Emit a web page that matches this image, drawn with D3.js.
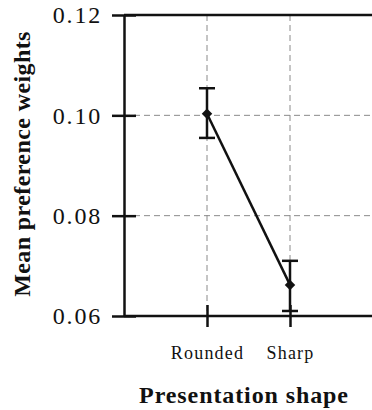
<!DOCTYPE html>
<html>
<head>
<meta charset="utf-8">
<script src="https://cdn.jsdelivr.net/npm/d3@7"></script>
<style>
  body { margin: 0; background: #fff; }
  text { font-family: "Liberation Serif", "DejaVu Serif", serif; fill: #111; }
</style>
</head>
<body>
<div id="chart"></div>
<script>
// data
const categories = ["Rounded", "Sharp"];
const means = [0.1003, 0.0662];
const errLow = [0.0955, 0.0610];
const errHigh = [0.1054, 0.0710];
const yTicks = [0.06, 0.08, 0.10, 0.12];

const W = 372, H = 410;
const mLeft = 124, mRight = 373, mTop = 15, mBottom = 316;
const serif = "Liberation Serif, DejaVu Serif, serif";

const svg = d3.select("#chart").append("svg")
    .attr("width", W).attr("height", H);

const x = d3.scaleLinear().domain([0, categories.length + 1]).range([mLeft, mRight]);
const y = d3.scaleLinear().domain([0.06, 0.12]).range([mBottom, mTop]);

/**
 * grid
 */
const grid = svg.append("g")
    .attr("stroke", "#8a8a8a")
    .attr("stroke-width", 1)
    .attr("stroke-dasharray", "6,4");
grid.selectAll("line.h").data([0.08, 0.10]).join("line")
    .attr("class", "h")
    .attr("x1", mLeft).attr("x2", W)
    .attr("y1", d => y(d)).attr("y2", d => y(d));
grid.selectAll("line.v").data(categories).join("line")
    .attr("class", "v")
    .attr("x1", (d, i) => x(i + 1)).attr("x2", (d, i) => x(i + 1))
    .attr("y1", mTop).attr("y2", mBottom);

/**
 * axes
 */
const yAxis = svg.append("g")
    .attr("transform", `translate(${mLeft},0)`)
    .call(d3.axisLeft(y).tickValues(yTicks).tickFormat(d3.format(".2f"))
        .tickSizeInner(12).tickSizeOuter(0).tickPadding(10))
    .attr("font-family", serif);
yAxis.select(".domain").attr("stroke", "#111").attr("stroke-width", 2.5);
yAxis.selectAll(".tick line").attr("stroke", "#111").attr("stroke-width", 2.5)
    .attr("x1", 12);
yAxis.selectAll(".tick text")
    .style("font-size", "24px").style("letter-spacing", "1.8px").attr("fill", "#111");

const xAxis = svg.append("g")
    .attr("transform", `translate(0,${mBottom})`)
    .call(d3.axisBottom(x).tickValues(categories.map((d, i) => i + 1))
        .tickFormat((d, i) => categories[i])
        .tickSizeInner(11).tickSizeOuter(0).tickPadding(14))
    .attr("font-family", serif);
xAxis.select(".domain").remove();
xAxis.selectAll(".tick line").attr("stroke", "#111").attr("stroke-width", 2.5)
    .attr("y1", -11);
xAxis.selectAll(".tick text")
    .attr("dy", null).attr("y", 43)
    .style("font-size", "18px").style("letter-spacing", "1.2px").attr("fill", "#111");

// top and bottom frame lines
svg.append("g").attr("stroke", "#111").attr("stroke-width", 2.5)
  .selectAll("line").data([0.12, 0.06]).join("line")
    .attr("x1", mLeft).attr("x2", W)
    .attr("y1", d => y(d)).attr("y2", d => y(d));

/**
 * data line, error bars, markers
 */
const pts = categories.map((c, i) => ({c, i, m: means[i], lo: errLow[i], hi: errHigh[i]}));

svg.append("path")
    .datum(pts)
    .attr("fill", "none")
    .attr("stroke", "#111")
    .attr("stroke-width", 2.5)
    .attr("d", d3.line().x(d => x(d.i + 1)).y(d => y(d.m)));

const eb = svg.append("g").attr("stroke", "#111").attr("stroke-width", 2.5);
eb.selectAll("line.v").data(pts).join("line").attr("class", "v")
    .attr("x1", d => x(d.i + 1)).attr("x2", d => x(d.i + 1))
    .attr("y1", d => y(d.lo)).attr("y2", d => y(d.hi));
eb.selectAll("line.lo").data(pts).join("line").attr("class", "lo")
    .attr("x1", d => x(d.i + 1) - 8).attr("x2", d => x(d.i + 1) + 8)
    .attr("y1", d => y(d.lo)).attr("y2", d => y(d.lo));
eb.selectAll("line.hi").data(pts).join("line").attr("class", "hi")
    .attr("x1", d => x(d.i + 1) - 8).attr("x2", d => x(d.i + 1) + 8)
    .attr("y1", d => y(d.hi)).attr("y2", d => y(d.hi));

svg.selectAll("path.marker").data(pts).join("path")
    .attr("class", "marker")
    .attr("fill", "#111")
    .attr("transform", d => `translate(${x(d.i + 1)},${y(d.m)})`)
    .attr("d", d3.symbol(d3.symbolDiamond2, 70));

/**
 * titles
 */
svg.append("text")
    .attr("transform", `translate(30,164) rotate(-90)`)
    .attr("text-anchor", "middle")
    .style("font-size", "24px").style("font-weight", "bold")
    .style("letter-spacing", "0.4px")
    .text("Mean preference weights");

svg.append("text")
    .attr("x", 244).attr("y", 403)
    .attr("text-anchor", "middle")
    .style("font-size", "24px").style("font-weight", "bold")
    .style("letter-spacing", "0.9px")
    .text("Presentation shape");
</script>
</body>
</html>
